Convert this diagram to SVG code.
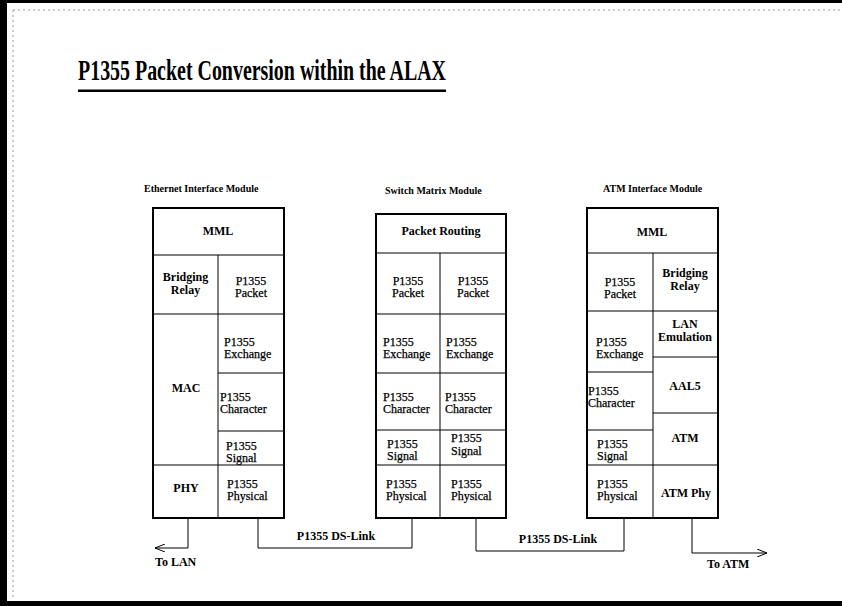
<svg xmlns="http://www.w3.org/2000/svg" width="842" height="606" viewBox="0 0 842 606">
<style>
  text { font-family: "Liberation Serif", "Times New Roman", serif; fill: #000; }
  .t { font-size: 12px; stroke: #000; stroke-width: 0.25; }
  .b { font-size: 12px; font-weight: bold; }
  .h { font-size: 10px; font-weight: bold; }
  .c { text-anchor: middle; }
  .outer { fill: #fff; stroke: #000; stroke-width: 2; }
  .div { fill: none; stroke: #000; stroke-width: 1; }
  .wire { fill: none; stroke: #000; stroke-width: 1; }
</style>
<defs>
  <marker id="arr" viewBox="0 0 10 8" refX="10" refY="4" markerWidth="10" markerHeight="8" orient="auto" markerUnits="userSpaceOnUse">
    <path d="M0,0 L10,4 L0,8" fill="none" stroke="#000" stroke-width="1"/>
  </marker>
</defs>
<rect width="842" height="606" fill="#fff"/>
<!-- page border -->
<g id="page-border">
  <rect x="0" y="0" width="7" height="606" fill="#000"/>
  <rect x="0" y="0" width="842" height="3" fill="#000"/>
  <rect x="0" y="601" width="842" height="5" fill="#000"/>
  <line x1="13" y1="10" x2="13" y2="600" stroke="#999" stroke-width="1" stroke-dasharray="2 3"/>
  <line x1="13" y1="10" x2="842" y2="10" stroke="#999" stroke-width="1" stroke-dasharray="2 3"/>
</g>
<!-- title -->
<g id="title">
  <text x="78" y="80" font-size="29" font-weight="bold" textLength="368" lengthAdjust="spacingAndGlyphs">P1355 Packet Conversion within the ALAX</text>
  <rect x="78" y="89.5" width="368" height="2.5" fill="#000"/>
</g>

<!-- Ethernet Interface Module -->
<g id="ethernet-module">
  <text class="h" x="144" y="192">Ethernet Interface Module</text>
  <rect class="outer" x="153" y="208" width="131" height="310"/>
  <path class="div" d="M153,255 H284 M218,255 V518 M153,314 H284 M218,373 H284 M218,431 H284 M153,465 H284"/>
  <g id="eth-mml"><text class="b c" x="218" y="235">MML</text></g>
  <g id="eth-bridging"><text class="b c" x="185.5" y="281">Bridging</text><text class="b c" x="185.5" y="294">Relay</text></g>
  <g id="eth-packet"><text class="t c" x="251" y="285">P1355</text><text class="t c" x="251" y="297">Packet</text></g>
  <g id="eth-mac"><text class="b c" x="186" y="392">MAC</text></g>
  <g id="eth-exchange"><text class="t" x="224" y="346">P1355</text><text class="t" x="224" y="358">Exchange</text></g>
  <g id="eth-character"><text class="t" x="220" y="401">P1355</text><text class="t" x="220" y="413">Character</text></g>
  <g id="eth-signal"><text class="t" x="226" y="450">P1355</text><text class="t" x="226" y="462">Signal</text></g>
  <g id="eth-phy"><text class="b c" x="186" y="492">PHY</text></g>
  <g id="eth-physical"><text class="t" x="227" y="488">P1355</text><text class="t" x="227" y="500">Physical</text></g>
</g>

<!-- Switch Matrix Module -->
<g id="switch-module">
  <text class="h" x="385" y="194" font-size="9.5">Switch Matrix Module</text>
  <rect class="outer" x="376" y="214" width="130" height="304"/>
  <path class="div" d="M376,253 H506 M440,253 V518 M376,314 H506 M376,373 H506 M376,430 H506 M376,465 H506"/>
  <g id="sw-routing"><text class="b c" x="441" y="235">Packet Routing</text></g>
  <g id="sw-packet-a"><text class="t c" x="408" y="285">P1355</text><text class="t c" x="408" y="297">Packet</text></g>
  <g id="sw-packet-b"><text class="t c" x="473" y="285">P1355</text><text class="t c" x="473" y="297">Packet</text></g>
  <g id="sw-exchange-a"><text class="t" x="383" y="346">P1355</text><text class="t" x="383" y="358">Exchange</text></g>
  <g id="sw-exchange-b"><text class="t" x="446" y="346">P1355</text><text class="t" x="446" y="358">Exchange</text></g>
  <g id="sw-character-a"><text class="t" x="383" y="401">P1355</text><text class="t" x="383" y="413">Character</text></g>
  <g id="sw-character-b"><text class="t" x="445" y="401">P1355</text><text class="t" x="445" y="413">Character</text></g>
  <g id="sw-signal-a"><text class="t" x="387" y="448">P1355</text><text class="t" x="387" y="460">Signal</text></g>
  <g id="sw-signal-b"><text class="t" x="451" y="442">P1355</text><text class="t" x="451" y="455">Signal</text></g>
  <g id="sw-physical-a"><text class="t" x="386" y="488">P1355</text><text class="t" x="386" y="500">Physical</text></g>
  <g id="sw-physical-b"><text class="t" x="451" y="488">P1355</text><text class="t" x="451" y="500">Physical</text></g>
</g>

<!-- ATM Interface Module -->
<g id="atm-module">
  <text class="h" x="603" y="192">ATM Interface Module</text>
  <rect class="outer" x="587" y="208" width="131" height="310"/>
  <path class="div" d="M587,253 H718 M653,253 V518 M587,311 H718 M587,372 H653 M587,430 H653 M587,465 H718 M653,357 H718 M653,413 H718"/>
  <g id="atm-mml"><text class="b c" x="652" y="236">MML</text></g>
  <g id="atm-packet"><text class="t c" x="620" y="286">P1355</text><text class="t c" x="620" y="298">Packet</text></g>
  <g id="atm-bridging"><text class="b c" x="685" y="277">Bridging</text><text class="b c" x="685" y="290">Relay</text></g>
  <g id="atm-lane"><text class="b c" x="685" y="328">LAN</text><text class="b c" x="685" y="341">Emulation</text></g>
  <g id="atm-exchange"><text class="t" x="596" y="346">P1355</text><text class="t" x="596" y="358">Exchange</text></g>
  <g id="atm-character"><text class="t" x="588" y="395">P1355</text><text class="t" x="588" y="407">Character</text></g>
  <g id="atm-aal5"><text class="b c" x="685" y="390">AAL5</text></g>
  <g id="atm-signal"><text class="t" x="597" y="448">P1355</text><text class="t" x="597" y="460">Signal</text></g>
  <g id="atm-atm"><text class="b c" x="685" y="442">ATM</text></g>
  <g id="atm-physical"><text class="t" x="597" y="488">P1355</text><text class="t" x="597" y="500">Physical</text></g>
  <g id="atm-phy"><text class="b c" x="686" y="497">ATM Phy</text></g>
</g>

<!-- connectors -->
<g id="connectors">
  <path class="wire" d="M188,519 V548 H155" marker-end="url(#arr)"/>
  <text class="b" x="155" y="566">To LAN</text>
  <path class="wire" d="M258,519 V548 H412 V519"/>
  <text class="b c" x="336" y="540">P1355 DS-Link</text>
  <path class="wire" d="M476,519 V551 H624 V519"/>
  <text class="b c" x="558" y="543">P1355 DS-Link</text>
  <path class="wire" d="M692,519 V553 H767" marker-end="url(#arr)"/>
  <text class="b" x="707" y="568">To ATM</text>
</g>
</svg>
